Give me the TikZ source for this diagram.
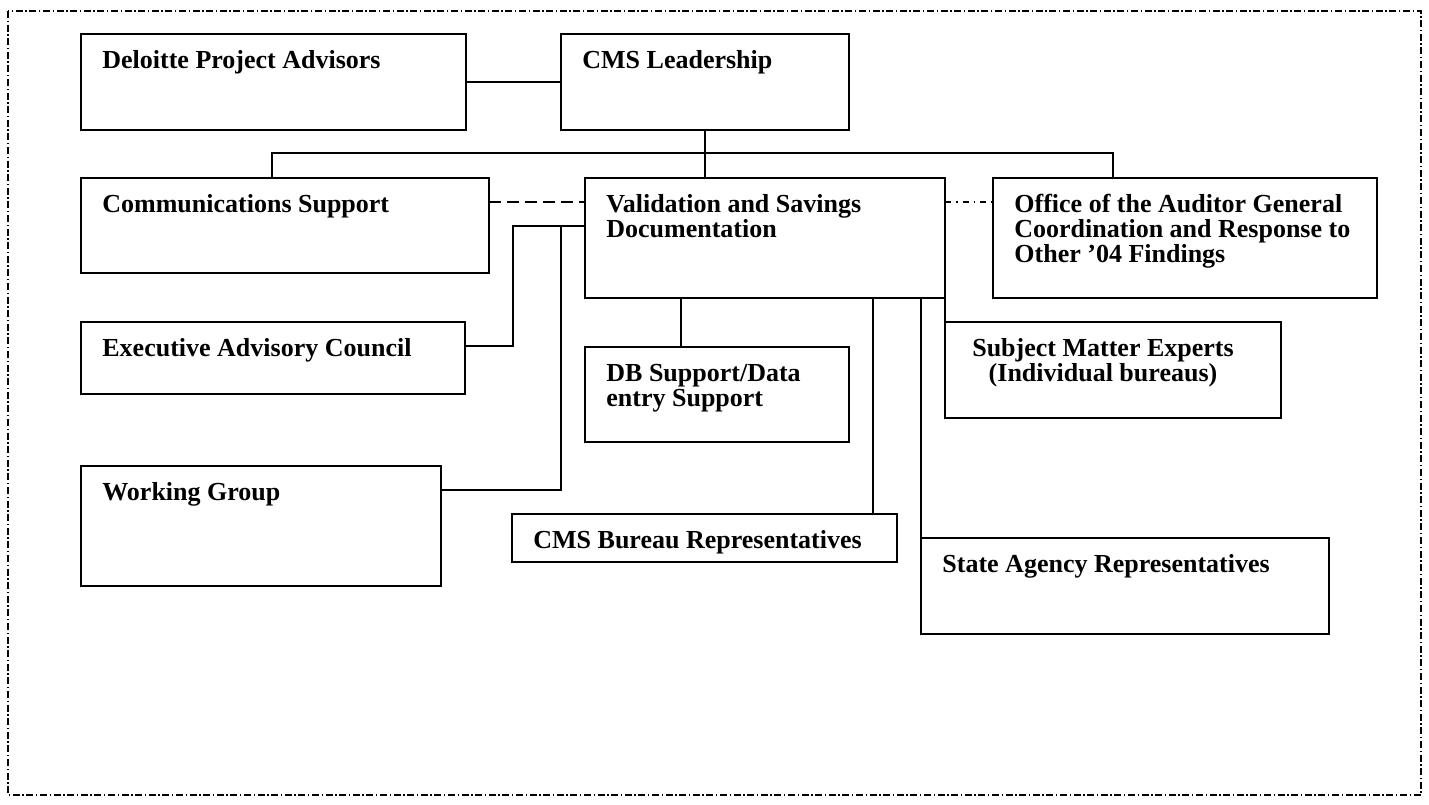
\documentclass[tikz,border=0pt]{standalone}
\usepackage{fontspec}
\setmainfont{Liberation Serif}
\usetikzlibrary{calc}
\newcommand{\myst}{\rule{0pt}{12pt}}
\tikzset{
  box/.style={draw, line width=1pt, rectangle, inner sep=0pt, outer sep=0pt, anchor=north west},
  lbl/.style={anchor=north west, inner sep=0pt, align=left, font=\fontsize{13pt}{12.6pt}\selectfont\bfseries},
  clbl/.style={anchor=north, inner sep=0pt, align=center, font=\fontsize{13pt}{12.6pt}\selectfont\bfseries},
  conn/.style={line width=1pt},
  dashconn/.style={line width=1pt, dash pattern=on 6pt off 3pt},
  dotconn/.style={line width=1pt, dash pattern=on 3pt off 2.5pt on 0.8pt off 2.5pt},
  frame/.style={line width=1pt, dash pattern=on 3.5pt off 1.3pt on 0.7pt off 1.3pt}
}
\newcommand{\bx}[5]{\node[box, minimum width=#4*0.5pt, minimum height=#5*0.5pt] (#1) at (#2,#3) {};}
\begin{document}
\begin{tikzpicture}[x=0.5pt,y=-0.5pt]
\useasboundingbox (0,0) rectangle (1429,804);
\draw[frame] (8,11) rectangle (1421,795);

\bx{dpa}{81}{34}{385}{96}
\bx{cms}{561}{34}{288}{96}
\bx{comm}{81}{178}{408}{95}
\bx{val}{585}{178}{360}{120}
\bx{oag}{993}{178}{384}{120}
\bx{eac}{81}{322}{384}{72}
\bx{db}{585}{347}{264}{95}
\bx{sme}{945}{322}{336}{96}
\bx{wg}{81}{466}{360}{120}
\bx{cbr}{512}{514}{385}{48}
\bx{sar}{921}{538}{408}{96}

\node[lbl] (dpa-t) at ($(dpa.north west)+(21,10)$) {\myst Deloitte Project Advisors};
\node[lbl] (cms-t) at ($(cms.north west)+(21,10)$) {\myst CMS Leadership};
\node[lbl] (comm-t) at ($(comm.north west)+(21,10)$) {\myst Communications Support};
\node[lbl] (val-t) at ($(val.north west)+(21,10)$) {\myst Validation and Savings\\Documentation};
\node[lbl] (oag-t) at ($(oag.north west)+(21,10)$) {\myst Office of the Auditor General\\Coordination and Response to\\Other ’04 Findings};
\node[lbl] (eac-t) at ($(eac.north west)+(21,10)$) {\myst Executive Advisory Council};
\node[lbl] (db-t) at ($(db.north west)+(21,10)$) {\myst DB Support/Data\\entry Support};
\node[clbl] (sme-t) at ($(sme.north)+(-10,10)$) {\myst Subject Matter Experts\\(Individual bureaus)};
\node[lbl] (wg-t) at ($(wg.north west)+(21,10)$) {\myst Working Group};
\node[lbl] (cbr-t) at ($(cbr.north west)+(21,10)$) {\myst CMS Bureau Representatives};
\node[lbl] (sar-t) at ($(sar.north west)+(21,10)$) {\myst State Agency Representatives};

% connector points
\coordinate (bus) at ($(cms.south)+(0,23)$);
\coordinate (commtop) at ($(comm.north west)+(191,0)$);
\coordinate (valtop) at ($(val.north west)+(120,0)$);
\coordinate (oagtop) at ($(oag.north west)+(120,0)$);
\coordinate (vl) at ($(val.north west)+(0,48)$);
\coordinate (eacr) at ($(eac.north east)+(0,24)$);
\coordinate (wgr) at ($(wg.north east)+(0,24)$);
\coordinate (vbot1) at ($(val.south west)+(96,0)$);
\coordinate (dbtop) at ($(db.north west)+(96,0)$);
\coordinate (vbot2) at ($(val.south west)+(288,0)$);

% connectors
\draw[conn] (dpa.east) -- (cms.west);
\draw[conn] (cms.south) -- (valtop);
\draw[conn] (commtop) -- (commtop |- bus) -- (oagtop |- bus) -- (oagtop);
\draw[dashconn] ($(comm.north east)+(0,24)$) -- ($(val.north west)+(0,24)$);
\draw[dotconn] ($(val.north east)+(0,24)$) -- ($(oag.north west)+(0,24)$);
\draw[conn] (eacr) -| ($(vl)+(-72,0)$) -- (vl);
\draw[conn] (wgr) -| ($(vl)+(-24,0)$);
\draw[conn] (vbot1) -- (dbtop);
\draw[conn] (val.south east) -- (sme.north west);
\draw[conn] (vbot2) -- (vbot2 |- cbr.north);
\draw[conn] (sar.north west |- val.south) -- (sar.north west);
\end{tikzpicture}
\end{document}
